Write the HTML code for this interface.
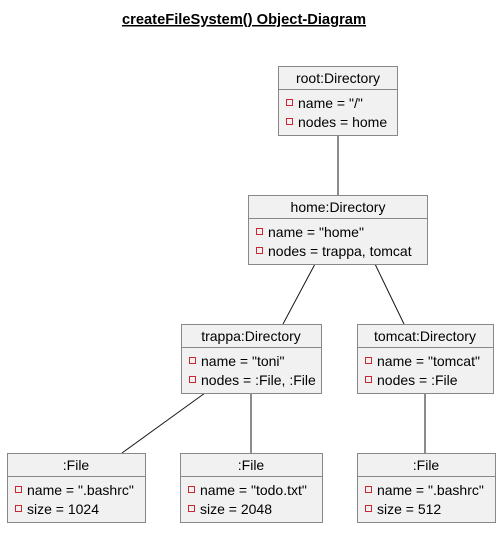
<!DOCTYPE html>
<html><head><style>
html,body{margin:0;padding:0;background:#fff;}
svg text{font-family:"Liberation Sans","DejaVu Sans",sans-serif;font-size:14px;fill:#000;}
</style></head><body>
<svg width="501" height="528" viewBox="0 0 501 528" xmlns="http://www.w3.org/2000/svg">
<text x="244" y="24" text-anchor="middle" style="font-weight:bold;font-size:14.7px;text-decoration:underline">createFileSystem() Object-Diagram</text>
<g stroke="#181818" stroke-width="1" fill="none">
<line x1="338" y1="135" x2="338" y2="195"/>
<line x1="315" y1="264" x2="283" y2="324"/>
<line x1="375" y1="264" x2="404" y2="324"/>
<line x1="205" y1="393" x2="122" y2="453"/>
<line x1="251" y1="393" x2="251" y2="453"/>
<line x1="425" y1="393" x2="425" y2="453"/>
</g>
<g>
<g transform="translate(278,66)">
<rect x="0.5" y="0.5" width="119" height="69" fill="#f1f1f1" stroke="#888"/>
<line x1="0.5" y1="23.5" x2="119.5" y2="23.5" stroke="#888"/>
<text x="60" y="17" text-anchor="middle">root:Directory</text>
<rect x="8.5" y="33.5" width="6" height="6" fill="none" stroke="#c82930"/>
<rect x="8.5" y="52.5" width="6" height="6" fill="none" stroke="#c82930"/>
<text x="20" y="42">name = "/"</text>
<text x="20" y="61">nodes = home</text>
</g>
<g transform="translate(248,195)">
<rect x="0.5" y="0.5" width="179" height="69" fill="#f1f1f1" stroke="#888"/>
<line x1="0.5" y1="23.5" x2="179.5" y2="23.5" stroke="#888"/>
<text x="90" y="17" text-anchor="middle">home:Directory</text>
<rect x="8.5" y="33.5" width="6" height="6" fill="none" stroke="#c82930"/>
<rect x="8.5" y="52.5" width="6" height="6" fill="none" stroke="#c82930"/>
<text x="20" y="42">name = "home"</text>
<text x="20" y="61">nodes = trappa, tomcat</text>
</g>
<g transform="translate(181,324)">
<rect x="0.5" y="0.5" width="140" height="69" fill="#f1f1f1" stroke="#888"/>
<line x1="0.5" y1="23.5" x2="140.5" y2="23.5" stroke="#888"/>
<text x="70" y="17" text-anchor="middle">trappa:Directory</text>
<rect x="8.5" y="33.5" width="6" height="6" fill="none" stroke="#c82930"/>
<rect x="8.5" y="52.5" width="6" height="6" fill="none" stroke="#c82930"/>
<text x="20" y="42">name = "toni"</text>
<text x="20" y="61">nodes = :File, :File</text>
</g>
<g transform="translate(357,324)">
<rect x="0.5" y="0.5" width="136" height="69" fill="#f1f1f1" stroke="#888"/>
<line x1="0.5" y1="23.5" x2="136.5" y2="23.5" stroke="#888"/>
<text x="68" y="17" text-anchor="middle">tomcat:Directory</text>
<rect x="8.5" y="33.5" width="6" height="6" fill="none" stroke="#c82930"/>
<rect x="8.5" y="52.5" width="6" height="6" fill="none" stroke="#c82930"/>
<text x="20" y="42">name = "tomcat"</text>
<text x="20" y="61">nodes = :File</text>
</g>
<g transform="translate(7,453)">
<rect x="0.5" y="0.5" width="138" height="69" fill="#f1f1f1" stroke="#888"/>
<line x1="0.5" y1="23.5" x2="138.5" y2="23.5" stroke="#888"/>
<text x="69" y="17" text-anchor="middle">:File</text>
<rect x="8.5" y="33.5" width="6" height="6" fill="none" stroke="#c82930"/>
<rect x="8.5" y="52.5" width="6" height="6" fill="none" stroke="#c82930"/>
<text x="20" y="42">name = ".bashrc"</text>
<text x="20" y="61">size = 1024</text>
</g>
<g transform="translate(180,453)">
<rect x="0.5" y="0.5" width="142" height="69" fill="#f1f1f1" stroke="#888"/>
<line x1="0.5" y1="23.5" x2="142.5" y2="23.5" stroke="#888"/>
<text x="71" y="17" text-anchor="middle">:File</text>
<rect x="8.5" y="33.5" width="6" height="6" fill="none" stroke="#c82930"/>
<rect x="8.5" y="52.5" width="6" height="6" fill="none" stroke="#c82930"/>
<text x="20" y="42">name = "todo.txt"</text>
<text x="20" y="61">size = 2048</text>
</g>
<g transform="translate(357,453)">
<rect x="0.5" y="0.5" width="138" height="69" fill="#f1f1f1" stroke="#888"/>
<line x1="0.5" y1="23.5" x2="138.5" y2="23.5" stroke="#888"/>
<text x="69" y="17" text-anchor="middle">:File</text>
<rect x="8.5" y="33.5" width="6" height="6" fill="none" stroke="#c82930"/>
<rect x="8.5" y="52.5" width="6" height="6" fill="none" stroke="#c82930"/>
<text x="20" y="42">name = ".bashrc"</text>
<text x="20" y="61">size = 512</text>
</g>
</g>
</svg>
</body></html>
